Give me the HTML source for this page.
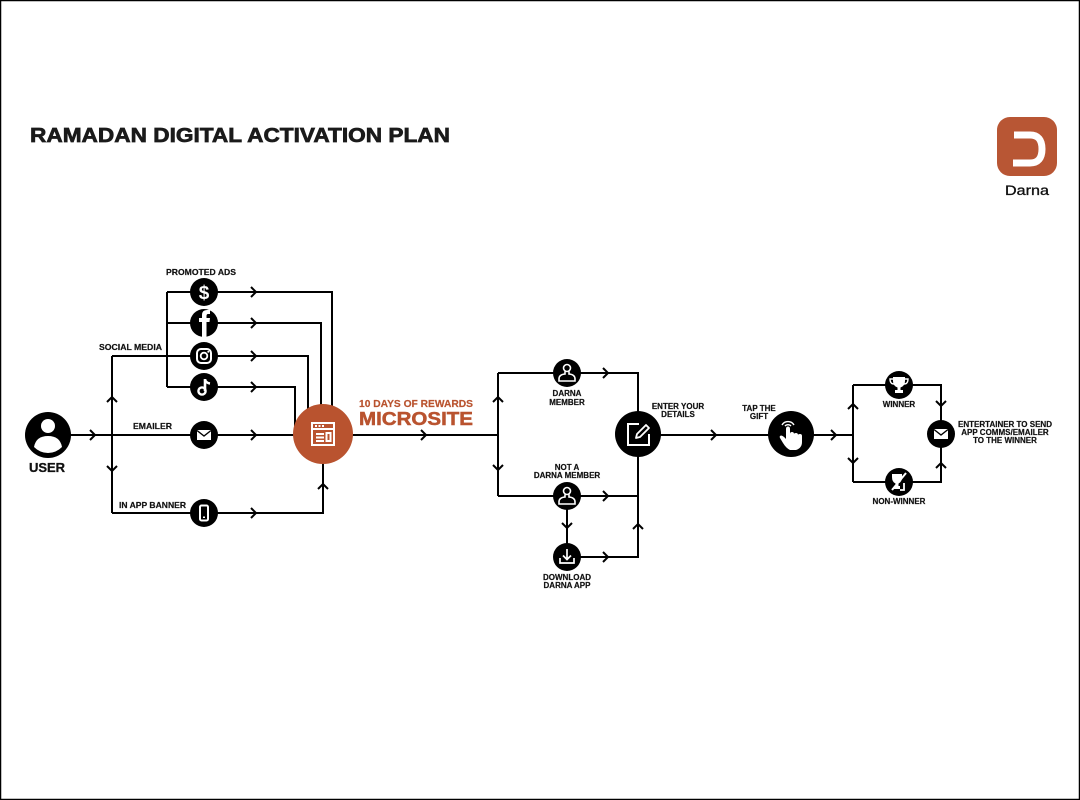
<!DOCTYPE html>
<html><head><meta charset="utf-8"><style>
html,body{margin:0;padding:0;background:#fff;}
svg{display:block;}
text{font-family:"Liberation Sans",Arial,sans-serif;font-weight:bold;}
</style></head><body>
<svg width="1080" height="800" viewBox="0 0 1080 800" xmlns="http://www.w3.org/2000/svg">
<rect x="0.5" y="0.5" width="1079" height="799" fill="#fff" stroke="#000" stroke-width="1.5"/>

<!-- Title -->
<text x="30" y="142" font-size="20" fill="#1a1a1a" stroke="#1a1a1a" stroke-width="0.7" textLength="420" lengthAdjust="spacingAndGlyphs">RAMADAN DIGITAL ACTIVATION PLAN</text>

<!-- Logo -->
<rect x="997" y="117" width="60" height="59" rx="13" fill="#b85634"/>
<path d="M1014 135 L1030 135 Q1042 135 1042 149 Q1042 163 1030 163 L1013 163" fill="none" stroke="#fff" stroke-width="7"/>
<text x="1027" y="195" font-size="13.5" fill="#111" text-anchor="middle" style="font-weight:normal" stroke="#111" stroke-width="0.3" textLength="44" lengthAdjust="spacingAndGlyphs">Darna</text>

<g fill="none" stroke="#000" stroke-width="2">
  <path d="M48 435 H323"/>
  <path d="M112 356 V513"/>
  <path d="M112 356 H308 V435"/>
  <path d="M167 292 V387"/>
  <path d="M167 292 H332 V435"/>
  <path d="M167 323 H321 V435"/>
  <path d="M167 387 H295 V435"/>
  <path d="M112 513 H323 V435"/>
  <path d="M323 435 H498"/>
  <path d="M498 373 V496"/>
  <path d="M498 373 H638 V435"/>
  <path d="M498 496 H638"/>
  <path d="M567 496 V557"/>
  <path d="M567 557 H638 V435"/>
  <path d="M638 435 H853"/>
  <path d="M853 385 V482"/>
  <path d="M853 385 H941 V435"/>
  <path d="M853 482 H941 V435"/>
</g>

<g fill="none" stroke="#000" stroke-width="2" stroke-linejoin="miter">
  <path d="M90 430 L95 435 L90 440"/>
  <path d="M251 287 L256 292 L251 297"/>
  <path d="M251 318 L256 323 L251 328"/>
  <path d="M251 351 L256 356 L251 361"/>
  <path d="M251 382 L256 387 L251 392"/>
  <path d="M251 430 L256 435 L251 440"/>
  <path d="M251 508 L256 513 L251 518"/>
  <path d="M421 430 L426 435 L421 440"/>
  <path d="M603 368 L608 373 L603 378"/>
  <path d="M603 491 L608 496 L603 501"/>
  <path d="M603 552 L608 557 L603 562"/>
  <path d="M711 430 L716 435 L711 440"/>
  <path d="M831 430 L836 435 L831 440"/>
  <path d="M107 402 L112 397 L117 402"/>
  <path d="M318 489 L323 484 L328 489"/>
  <path d="M493 402 L498 397 L503 402"/>
  <path d="M633 529 L638 524 L643 529"/>
  <path d="M848 409 L853 404 L858 409"/>
  <path d="M936 468 L941 463 L946 468"/>
  <path d="M107 466 L112 471 L117 466"/>
  <path d="M493 465 L498 470 L503 465"/>
  <path d="M562 523 L567 528 L572 523"/>
  <path d="M848 458 L853 463 L858 458"/>
  <path d="M936 401 L941 406 L946 401"/>
</g>

<!-- USER -->
<circle cx="48" cy="435" r="23" fill="#000"/>
<circle cx="48" cy="426" r="7" fill="#fff"/>
<path d="M34 447 Q36 436 48 436 Q60 436 62 447 Q56 453 48 453 Q40 453 34 447 Z" fill="#fff"/>
<text x="47" y="472" font-size="13" text-anchor="middle" fill="#111" stroke="#111" stroke-width="0.3">USER</text>

<!-- left icons -->
<circle cx="204" cy="292" r="14" fill="#000"/>
<text x="204" y="299" font-size="19" text-anchor="middle" fill="#fff">$</text>

<circle cx="204" cy="323" r="14" fill="#000"/>
<path d="M202 337 V322 H199 V318 H202 V315 Q202 310 207 310 H210 V314 H208 Q206.5 314 206.5 316 V318 H210 L209.5 322 H206.5 V337 Z" fill="#fff"/>

<circle cx="204" cy="356" r="14" fill="#000"/>
<rect x="197" y="349" width="14" height="14" rx="4" fill="none" stroke="#fff" stroke-width="2"/>
<circle cx="204" cy="356" r="3.3" fill="none" stroke="#fff" stroke-width="1.8"/>
<circle cx="208.3" cy="351.8" r="1" fill="#fff"/>

<circle cx="204" cy="387" r="14" fill="#000"/>
<path d="M205 379 V391" stroke="#fff" stroke-width="2.6" fill="none"/>
<circle cx="202" cy="391" r="3.6" fill="none" stroke="#fff" stroke-width="2.4"/>
<path d="M205 379.5 Q206 383 210 383.5" stroke="#fff" stroke-width="2.4" fill="none"/>

<circle cx="204" cy="435" r="14" fill="#000"/>
<rect x="197" y="430" width="14" height="10" fill="#fff"/>
<path d="M197 430.5 L204 436 L211 430.5" fill="none" stroke="#000" stroke-width="1.4"/>

<circle cx="204" cy="513" r="14" fill="#000"/>
<rect x="200" y="505.5" width="8" height="15" rx="1.5" fill="none" stroke="#fff" stroke-width="2"/>
<rect x="203" y="516.5" width="2" height="1.5" fill="#fff"/>

<g font-size="8.5" fill="#111" stroke="#111" stroke-width="0.2">
  <text x="166" y="275" textLength="70" lengthAdjust="spacingAndGlyphs">PROMOTED ADS</text>
  <text x="99" y="350" textLength="63" lengthAdjust="spacingAndGlyphs">SOCIAL MEDIA</text>
  <text x="133" y="429" textLength="39" lengthAdjust="spacingAndGlyphs">EMAILER</text>
  <text x="119" y="508" textLength="67" lengthAdjust="spacingAndGlyphs">IN APP BANNER</text>
</g>

<!-- MICROSITE -->
<circle cx="323" cy="434" r="30" fill="#b9532f"/>
<g fill="none" stroke="#fff" stroke-width="2">
  <rect x="312" y="423" width="22" height="22"/>
  <path d="M312 429 H334"/>
  <path d="M316 434 H324 M316 437.5 H324 M316 441 H324"/>
  <rect x="326.5" y="433" width="4" height="8"/>
</g>
<g fill="#fff"><rect x="315" y="425" width="2" height="2"/><rect x="318.5" y="425" width="2" height="2"/><rect x="322" y="425" width="2" height="2"/></g>
<text x="359" y="407" font-size="10.5" fill="#b9532f" stroke="#b9532f" stroke-width="0.2" textLength="114" lengthAdjust="spacingAndGlyphs">10 DAYS OF REWARDS</text>
<text x="359" y="425" font-size="18" fill="#b9532f" stroke="#b9532f" stroke-width="0.5" textLength="114" lengthAdjust="spacingAndGlyphs">MICROSITE</text>

<g>
  <circle cx="567" cy="373" r="14" fill="#000"/>
  <circle cx="567" cy="368" r="3.5" fill="none" stroke="#fff" stroke-width="1.6"/>
  <path d="M565 371.5 V374 Q559 374.5 559 379 V381 H575 V379 Q575 374.5 569 374 V371.5" fill="none" stroke="#fff" stroke-width="1.6"/>

  <circle cx="567" cy="496" r="14" fill="#000"/>
  <circle cx="567" cy="491" r="3.5" fill="none" stroke="#fff" stroke-width="1.6"/>
  <path d="M565 494.5 V497 Q559 497.5 559 502 V504 H575 V502 Q575 497.5 569 497 V494.5" fill="none" stroke="#fff" stroke-width="1.6"/>

  <circle cx="567" cy="557" r="14" fill="#000"/>
  <path d="M567 549 V559 M563 555.5 L567 559.5 L571 555.5 M560 558 V563 H574 V558" fill="none" stroke="#fff" stroke-width="1.7"/>
</g>
<g font-size="8" fill="#111" text-anchor="middle" stroke="#111" stroke-width="0.2">
  <text x="567" y="396">DARNA</text>
  <text x="567" y="405">MEMBER</text>
  <text x="567" y="470">NOT A</text>
  <text x="567" y="478">DARNA MEMBER</text>
  <text x="567" y="580">DOWNLOAD</text>
  <text x="567" y="588">DARNA APP</text>
  <text x="678" y="409">ENTER YOUR</text>
  <text x="678" y="417">DETAILS</text>
  <text x="759" y="411">TAP THE</text>
  <text x="759" y="419">GIFT</text>
  <text x="899" y="407">WINNER</text>
  <text x="899" y="504">NON-WINNER</text>
  <text x="1005" y="427">ENTERTAINER TO SEND</text>
  <text x="1005" y="435">APP COMMS/EMAILER</text>
  <text x="1005" y="443">TO THE WINNER</text>
</g>

<circle cx="638" cy="434" r="23" fill="#000"/>
<path d="M639 424 H628 V445 H649 V434" fill="none" stroke="#fff" stroke-width="2"/>
<path d="M636 438 L637 434 L646 425 L649 428 L640 437 Z" fill="none" stroke="#fff" stroke-width="1.8" stroke-linejoin="round"/>

<circle cx="791" cy="434" r="23" fill="#000"/>
<path d="M782 425 A7 7 0 0 1 794 425 M785 426 A4 4 0 0 1 791 426" fill="none" stroke="#fff" stroke-width="1.4"/>
<path d="M786 429 Q786 426.5 788 426.5 Q790 426.5 790 429 V434 Q790 432 792 432 Q794 432 794 434 Q794 433 796 433 Q798 433 798 435 Q798 434 800 434 Q802 434 802 436 V442 Q802 448 796 450 H790 Q786 448 783 443 L780 438 Q779 436 781 435.5 Q783 435.5 786 439 Z" fill="#fff"/>

<circle cx="899" cy="385" r="14" fill="#000"/>
<path d="M893 377 H905 V381 Q905 386 900.5 387.5 V390 H903 V393 H895 V390 H897.5 V387.5 Q893 386 893 381 Z" fill="#fff"/>
<path d="M893 379 H890 Q890 384 894 384 M905 379 H908 Q908 384 904 384" fill="none" stroke="#fff" stroke-width="1.4"/>

<circle cx="899" cy="482" r="14" fill="#000"/>
<path d="M892 474 H902 V477 Q902 482 898.5 483.5 V486 H900 V489 H894 V486 H895.5 V483.5 Q892 482 892 477 Z" fill="#fff"/>
<path d="M892 490 L906 473" stroke="#fff" stroke-width="2" fill="none"/>
<path d="M904 483 V490 H900" stroke="#fff" stroke-width="1.8" fill="none"/>

<circle cx="941" cy="434" r="14" fill="#000"/>
<rect x="934" y="429" width="14" height="10" fill="#fff"/>
<path d="M934 429.5 L941 435 L948 429.5" fill="none" stroke="#000" stroke-width="1.4"/>
</svg>
</body></html>
